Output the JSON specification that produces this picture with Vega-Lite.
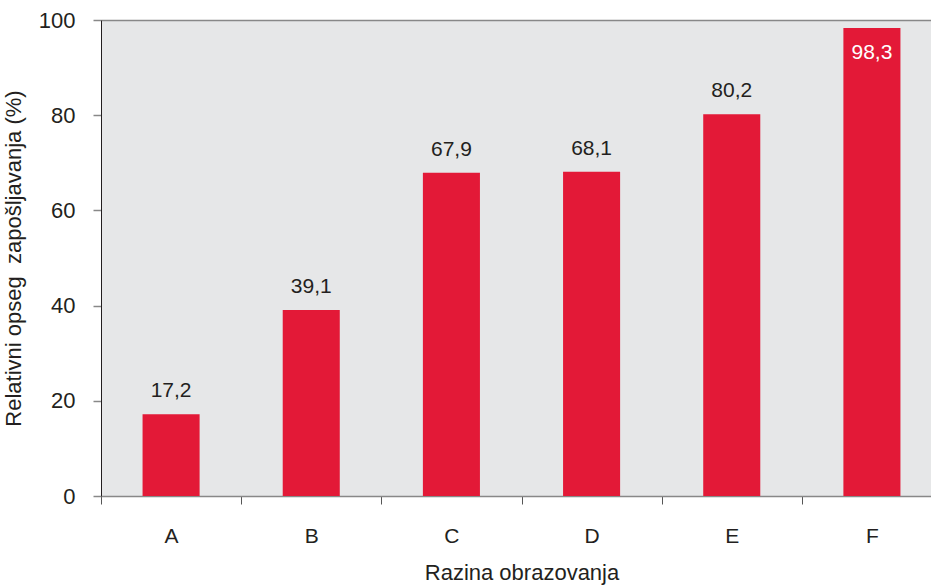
{
  "$schema": "https://vega.github.io/schema/vega-lite/v6.json",
  "width": 841,
  "height": 476,
  "autosize": {"type": "none"},
  "padding": {"left": 101, "top": 20, "right": 0, "bottom": 90},
  "background": "white",
  "config": {
    "font": "Liberation Sans",
    "locale": {"number": {"decimal": ",", "thousands": ".", "grouping": [3], "currency": ["", " €"]}},
    "view": {"fill": "#E6E7E8", "stroke": null},
    "axis": {"labelFont": "Liberation Sans", "titleFont": "Liberation Sans", "labelColor": "#231F20", "titleColor": "#231F20", "titleFontWeight": "normal"}
  },
  "data": {
    "values": [
      {"level": "A", "value": 17.2},
      {"level": "B", "value": 39.1},
      {"level": "C", "value": 67.9},
      {"level": "D", "value": 68.1},
      {"level": "E", "value": 80.2},
      {"level": "F", "value": 98.3}
    ]
  },
  "encoding": {
    "x": {
      "field": "level",
      "type": "nominal",
      "scale": {"padding": 0},
      "axis": {
        "title": "Razina obrazovanja",
        "titleFontSize": 22,
        "titlePadding": 16,
        "labelAngle": 0,
        "labelFontSize": 21,
        "labelPadding": 21,
        "tickBand": "extent",
        "tickColor": "#555",
        "tickSize": 8,
        "domainColor": "#888",
        "domainWidth": 1.5
      }
    },
    "y": {
      "field": "value",
      "type": "quantitative",
      "scale": {"domain": [0, 100]},
      "axis": {
        "title": "Relativni opseg\u00a0 zapošljavanja (%)",
        "titleFontSize": 22,
        "titlePadding": 13,
        "labelFontSize": 22,
        "labelPadding": 18,
        "tickCount": 5,
        "tickColor": "#888",
        "tickSize": 8,
        "tickWidth": 1.5,
        "domainColor": "#231F20",
        "grid": true,
        "gridWidth": 1.5,
        "gridColor": {"condition": {"test": "datum.value === 100", "value": "#888"}, "value": null}
      }
    }
  },
  "layer": [
    {
      "mark": {"type": "bar", "color": "#E31937", "width": {"band": 0.407}}
    },
    {
      "transform": [{"filter": "datum.value < 90"}],
      "mark": {"type": "text", "baseline": "bottom", "dy": -13, "fontSize": 21, "color": "#231F20"},
      "encoding": {"text": {"field": "value", "type": "quantitative", "format": ".1f"}}
    },
    {
      "transform": [{"filter": "datum.value >= 90"}],
      "mark": {"type": "text", "baseline": "top", "dy": 14, "fontSize": 21, "color": "white"},
      "encoding": {"text": {"field": "value", "type": "quantitative", "format": ".1f"}}
    }
  ]
}
